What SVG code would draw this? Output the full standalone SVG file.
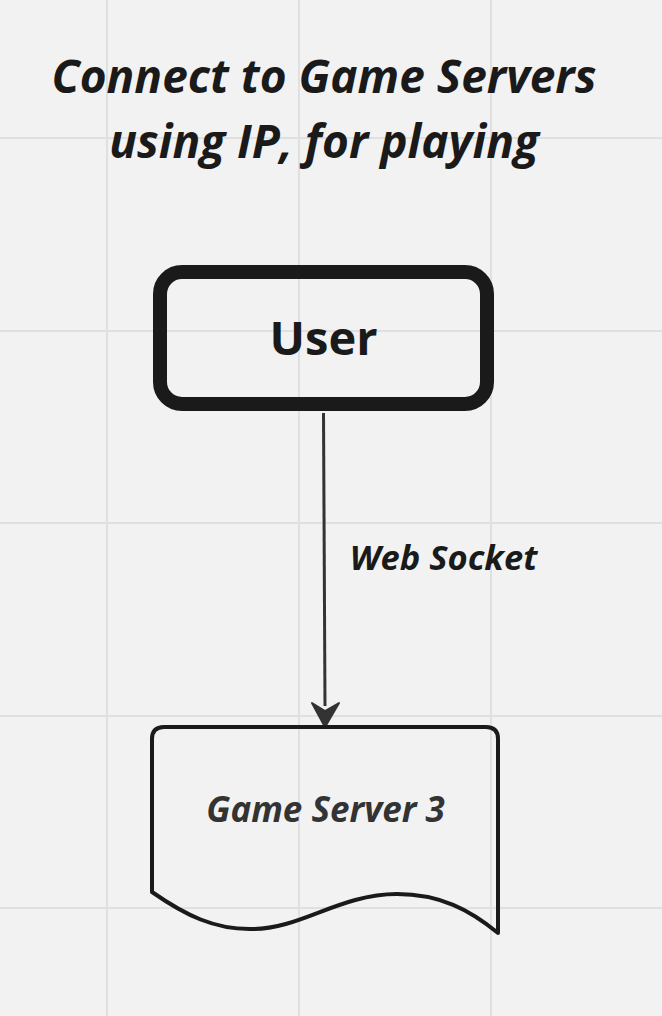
<svg xmlns="http://www.w3.org/2000/svg" width="662" height="1016" viewBox="0 0 662 1016">
<style>
.grid line{stroke:#e0e0e0;stroke-width:2}
.t{font-family:"Open Sans","Liberation Sans",sans-serif;font-weight:700;text-anchor:middle}
.i{font-style:italic}
</style>
<rect width="662" height="1016" fill="#f2f2f2"/>
<g class="grid">
<line x1="107" y1="0" x2="107" y2="1016"/>
<line x1="299" y1="0" x2="299" y2="1016"/>
<line x1="491" y1="0" x2="491" y2="1016"/>
<line x1="0" y1="138" x2="662" y2="138"/>
<line x1="0" y1="331" x2="662" y2="331"/>
<line x1="0" y1="523" x2="662" y2="523"/>
<line x1="0" y1="716" x2="662" y2="716"/>
<line x1="0" y1="908" x2="662" y2="908"/>
</g>
<g id="title">
<text class="t i" x="324" y="93" font-size="46" fill="#1a1a1a">Connect to Game Servers</text>
<text class="t i" x="324" y="158" font-size="46" fill="#1a1a1a">using IP, for playing</text>
</g>
<g id="connectors">
<line x1="323.5" y1="413" x2="325" y2="706" stroke="#333" stroke-width="3"/>
<path d="M312,703 L325,727 L339,703 L325,711 Z" fill="#333" stroke="#333" stroke-width="2" stroke-linejoin="round"/>
<text class="t i" x="443.5" y="570" font-size="34.5" fill="#1a1a1a">Web Socket</text>
</g>
<g id="user">
<rect x="160" y="272" width="327" height="132" rx="22" fill="none" stroke="#1a1a1a" stroke-width="14"/>
<text class="t" x="323.5" y="355" font-size="47" fill="#1a1a1a">User</text>
</g>
<g id="game-server-3">
<path d="M152,892 L152,739 Q152,727 164,727 L486,727 Q498,727 498,739 L498,933 C470,910 440,894 397,894 C340,894 300,929 253,929 C215,930 185,915 152,892 Z" fill="none" stroke="#1a1a1a" stroke-width="4" stroke-linejoin="round"/>
<text class="t i" x="325.5" y="822" font-size="35" fill="#333">Game Server 3</text>
</g>
</svg>
